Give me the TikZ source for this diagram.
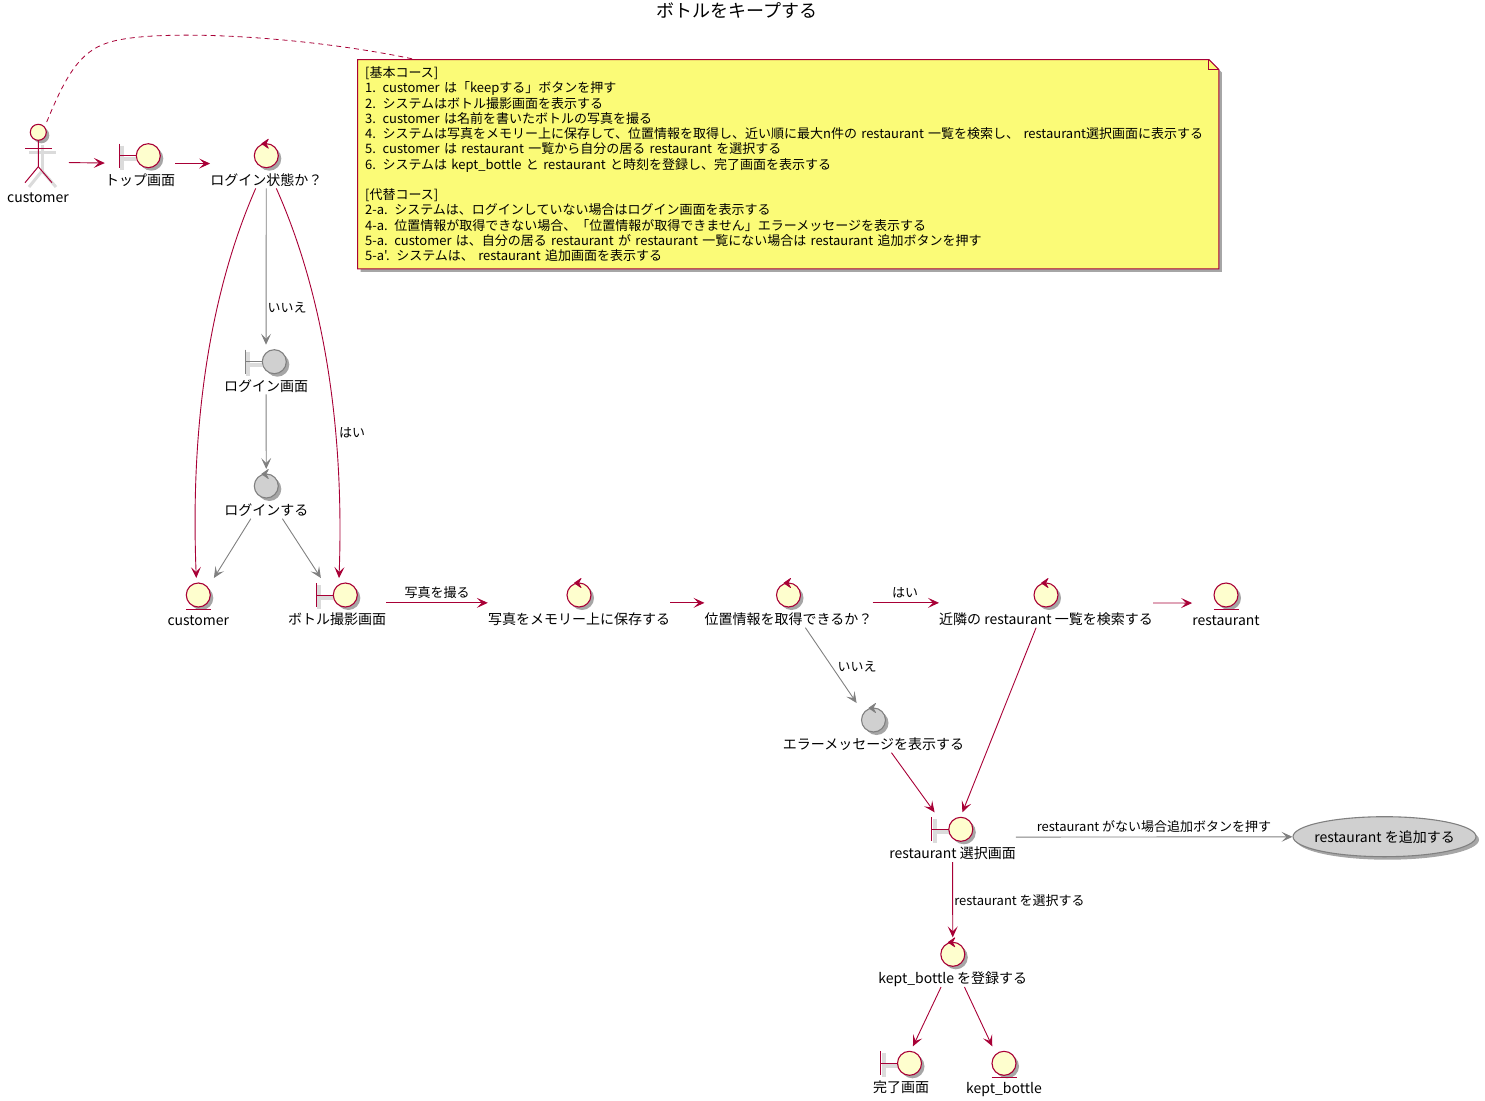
\documentclass[tikz,border=0pt]{standalone}
\usepackage{fontspec}
\usepackage{tikz}
\usetikzlibrary{arrows.meta,backgrounds,fit,shadows,shapes.geometric}

\newfontfamily\jpfont{Noto Sans CJK JP}
\definecolor{umlred}{HTML}{A80036}
\definecolor{umlyellow}{HTML}{FEFECE}
\definecolor{umlgray}{HTML}{D0D0D0}
\definecolor{umlline}{HTML}{808080}
\definecolor{umlnote}{HTML}{FBFB77}

\tikzset{
    softshadow/.style={drop shadow={shadow xshift=3pt,shadow yshift=-3pt,fill=black,opacity=0.35}},
    redel/.style={draw=umlred,fill=umlyellow},
    grayel/.style={draw=umlline,fill=umlgray},
    redelmark/.style={draw=umlred,fill=umlred},
    grayelmark/.style={draw=umlline,fill=umlline},
    elicon/.style={circle,minimum size=24pt,inner sep=0pt,outer sep=0pt,line width=1.1pt,softshadow},
    eltext/.style={inner sep=0pt,text height=13pt,text depth=3pt,font=\fontsize{14}{16}\jpfont\selectfont},
    eledge/.style={inner sep=0pt,font=\fontsize{13}{15}\jpfont\selectfont},
    cluster/.style={inner sep=0pt,outer sep=0pt},
    barshadow/.style={draw=black!14,line width=4pt},
    redarrow/.style={->,>={Stealth[length=11pt,width=10pt,inset=5pt]},draw=umlred,line width=0.9pt},
    grayarrow/.style={->,>={Stealth[length=11pt,width=10pt,inset=5pt]},draw=umlline,line width=0.9pt},
}

\newcommand{\boundaryel}[4]{
    \coordinate (#1-c) at (#3);
    \draw[barshadow] ([shift={(-25pt,-3pt)}]#1-c) -- ([shift={(-12pt,-3pt)}]#1-c);
    \draw[barshadow] ([shift={(-26pt,10pt)}]#1-c) -- ([shift={(-26pt,-14pt)}]#1-c);
    \node[elicon,#2] (#1-icon) at (#1-c) {};
    \draw[#2,line width=1pt] ([shift={(-29pt,12pt)}]#1-c) -- ([shift={(-29pt,-12pt)}]#1-c);
    \draw[#2,line width=1pt] ([xshift=-29pt]#1-c) -- (#1-icon.west);
    \node[eltext] (#1-text) at ([shift={(-8.3pt,-24.5pt)}]#1-c) {#4};
    \coordinate (#1-top) at ([yshift=5pt]#1-icon.north);
    \node[cluster,fit=(#1-top)(#1-icon)(#1-text)] (#1) {};
}
\newcommand{\controlel}[4]{
    \node[elicon,#2] (#1-icon) at (#3) {};
    \filldraw[#2mark,line width=0.8pt,line join=round] ([shift={(2pt,4.5pt)}]#1-icon.north) -- ([xshift=-4.5pt]#1-icon.north)
        -- ([shift={(2pt,-4.5pt)}]#1-icon.north) -- ([xshift=-0.5pt]#1-icon.north) -- cycle;
    \node[eltext] (#1-text) at ([yshift=-24.5pt]#1-icon.center) {#4};
    \coordinate (#1-top) at ([yshift=5pt]#1-icon.north);
    \node[cluster,fit=(#1-top)(#1-icon)(#1-text)] (#1) {};
}
\newcommand{\entityel}[4]{
    \node[elicon,#2] (#1-icon) at (#3) {};
    \draw[#2,line width=0.9pt] ([shift={(-12.5pt,-2pt)}]#1-icon.south) -- ([shift={(12.5pt,-2pt)}]#1-icon.south);
    \node[eltext] (#1-text) at ([yshift=-25pt]#1-icon.center) {#4};
    \coordinate (#1-top) at ([yshift=5pt]#1-icon.north);
    \node[cluster,fit=(#1-top)(#1-icon)(#1-text)] (#1) {};
}

\begin{document}
\begin{tikzpicture}[x=1pt,y=-1pt]
    \useasboundingbox (0,0) rectangle (1485,1100);

    \node[inner sep=0pt,font=\fontsize{18}{20}\jpfont\selectfont] (title) at (737,11) {ボトルをキープする};

    % note
    \node[anchor=north west,inner xsep=7.5pt,inner ysep=5pt,text width=846pt,minimum height=209pt,align=left,
        font=\fontsize{13}{15.25}\jpfont\selectfont] (note) at (357.5,59.5)
    {
        [基本コース]\\
        1. customer は「keepする」ボタンを押す\\
        2. システムはボトル撮影画面を表示する\\
        3. customer は名前を書いたボトルの写真を撮る\\
        4. システムは写真をメモリー上に保存して、位置情報を取得し、近い順に最大n件の restaurant 一覧を検索し、 restaurant選択画面に表示する\\
        5. customer は restaurant 一覧から自分の居る restaurant を選択する\\
        6. システムは kept\_bottle と restaurant と時刻を登録し、完了画面を表示する\\[15.25pt]
        [代替コース]\\
        2-a. システムは、ログインしていない場合はログイン画面を表示する\\
        4-a. 位置情報が取得できない場合、「位置情報が取得できません」エラーメッセージを表示する\\
        5-a. customer は、自分の居る restaurant が restaurant 一覧にない場合は restaurant 追加ボタンを押す\\
        5-a'. システムは、 restaurant 追加画面を表示する
    };
    \begin{scope}[on background layer]
        \path[draw=umlred,fill=umlnote,line width=1pt,softshadow] (note.north west) -- ([xshift=-10pt]note.north east)
            -- ([yshift=-10pt]note.north east) -- (note.south east) -- (note.south west) -- cycle;
        \draw[draw=umlred,line width=1pt] ([xshift=-10pt]note.north east) |- ([yshift=-10pt]note.north east);
    \end{scope}

    % actor
    \draw[barshadow,line width=3pt] (42,145) -- (42,172);
    \draw[barshadow,line width=3pt] (29,152) -- (56,152);
    \draw[barshadow,line width=3pt] (29,187) -- (42,171) -- (56,187);
    \node[elicon,redel,minimum size=16pt] (actor-icon) at (38.3,132.3) {};
    \draw[draw=umlred,line width=1pt] (actor-icon.south) -- (38.3,166.7) -- (25,182.7);
    \draw[draw=umlred,line width=1pt] (38.3,166.7) -- (52,182.7);
    \draw[draw=umlred,line width=1pt] (25,148) -- (52,148);
    \node[eltext] (actor-text) at (38,197) {customer};
    \coordinate (actor-top) at (38.3,119);
    \node[cluster,fit=(actor-top)(actor-icon)(actor-text)] (actor) {};

    % login side
    \boundaryel{top}{redel}{148.3,155.7}{トップ画面}
    \controlel{state}{redel}{266.3,155.7}{ログイン状態か？}
    \boundaryel{loginview}{grayel}{274.3,361.7}{ログイン画面}
    \controlel{login}{grayel}{266.3,486}{ログインする}
    \entityel{custdata}{redel}{198.3,595}{customer}
    \boundaryel{photoview}{redel}{345.3,595}{ボトル撮影画面}

    % main row
    \controlel{save}{redel}{579,595}{写真をメモリー上に保存する}
    \controlel{locate}{redel}{788.5,595}{位置情報を取得できるか？}
    \controlel{search}{redel}{1046,595}{近隣の restaurant 一覧を検索する}
    \entityel{restdata}{redel}{1226,595}{restaurant}
    \controlel{error}{grayel}{873.5,720}{エラーメッセージを表示する}

    % lower part
    \boundaryel{select}{redel}{960.8,829.3}{restaurant 選択画面}
    \node[ellipse,grayel,line width=1.1pt,minimum width=183pt,minimum height=40pt,inner sep=0pt,softshadow,
        font=\fontsize{14}{16}\jpfont\selectfont] (addrest) at (1384.5,836.7) {\makebox[100pt]{restaurant を追加する}};
    \controlel{keep}{redel}{952.8,954.3}{kept\_bottle を登録する}
    \boundaryel{done}{redel}{909.5,1063.3}{完了画面}
    \entityel{keptdata}{redel}{1004,1063.3}{kept\_bottle}

    \draw[umlred,dash pattern=on 5pt off 4pt,line width=0.8pt] ([shift={(8.4pt,10.3pt)}]actor-icon.center)
        .. controls (66,75) and (80,52) .. (107,43) .. controls (150,28) and (300,35) .. ([xshift=58pt]note.north west);

    \draw[redarrow] (actor) -- (top);
    \draw[redarrow] (top) -- (state);
    \draw[redarrow] ([xshift=-10.6pt]state.south) .. controls (198,320) and (192,470) .. ([xshift=-2pt]custdata.north);
    \draw[grayarrow] (state) -- (loginview);
    \draw[redarrow] ([xshift=10pt]state.south) .. controls (335,320) and (343,470) .. ([xshift=2pt]photoview.north);
    \draw[grayarrow] (loginview) -- (login);
    \draw[grayarrow] (login) -- (custdata);
    \draw[grayarrow] (login) -- (photoview);
    \draw[redarrow] (photoview) -- (save);
    \draw[redarrow] (save) -- (locate);
    \draw[redarrow] (locate) -- (search);
    \draw[redarrow] (search) -- (restdata);
    \draw[grayarrow] (locate) -- (error);
    \draw[redarrow] (error) -- (select);
    \draw[redarrow] (search) -- (select);
    \draw[grayarrow] (select) -- (addrest);
    \draw[redarrow] (select) -- (keep);
    \draw[redarrow] (keep) -- (done);
    \draw[redarrow] (keep) -- (keptdata);

    \node[eledge] (lbl-no1) at (287,308) {いいえ};
    \node[eledge] (lbl-yes1) at (352,433) {はい};
    \node[eledge] (lbl-shot) at (437,593) {写真を撮る};
    \node[eledge] (lbl-yes2) at (905,593) {はい};
    \node[eledge] (lbl-no2) at (857,667) {いいえ};
    \node[eledge] (lbl-add) at (1154,827) {restaurant がない場合追加ボタンを押す};
    \node[eledge] (lbl-pick) at (1019.5,901) {restaurant を選択する};
\end{tikzpicture}
\end{document}
